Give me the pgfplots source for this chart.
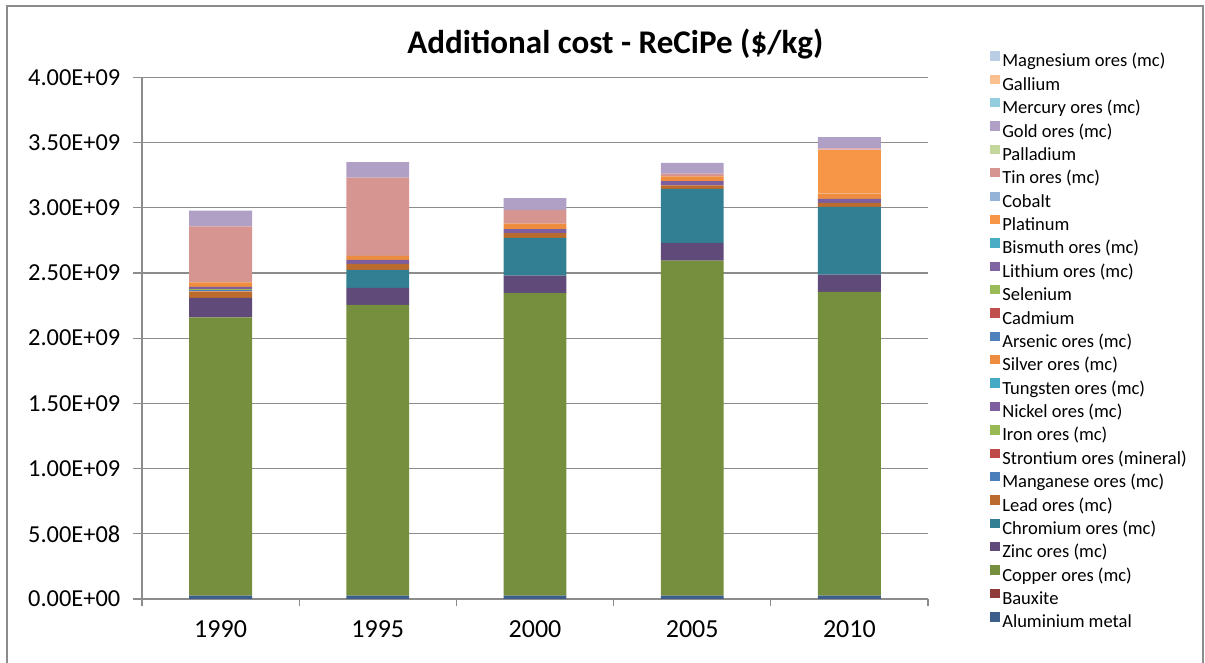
\documentclass[border=0pt]{standalone}
\usepackage{pgfplots}
\pgfplotsset{compat=1.18}
\usepackage{pgfplotstable}
\usepackage{fontspec}
\setmainfont{Carlito}

\definecolor{cAl}{HTML}{3C5E8B}
\definecolor{cBx}{HTML}{8E3B39}
\definecolor{cCu}{HTML}{768F3E}
\definecolor{cZn}{HTML}{5F4A7A}
\definecolor{cCr}{HTML}{327F93}
\definecolor{cPb}{HTML}{BA6B2D}
\definecolor{cMn}{HTML}{4A7EBB}
\definecolor{cSr}{HTML}{BE4B48}
\definecolor{cFe}{HTML}{98B954}
\definecolor{cNi}{HTML}{7D5FA0}
\definecolor{cW}{HTML}{46AAC5}
\definecolor{cAg}{HTML}{EE8D40}
\definecolor{cAs}{HTML}{4F81BD}
\definecolor{cCd}{HTML}{C0504D}
\definecolor{cSe}{HTML}{9BBB59}
\definecolor{cLi}{HTML}{8064A2}
\definecolor{cBi}{HTML}{4BACC6}
\definecolor{cPt}{HTML}{F79646}
\definecolor{cCo}{HTML}{95B3D7}
\definecolor{cSn}{HTML}{D79592}
\definecolor{cPd}{HTML}{C3D69B}
\definecolor{cAu}{HTML}{B0A0C6}
\definecolor{cHg}{HTML}{93CDDD}
\definecolor{cGa}{HTML}{FAC090}
\definecolor{cMg}{HTML}{B9CDE5}
\definecolor{gridgray}{HTML}{8C8C8C}

% values in units of 1E9 $/kg
\pgfplotstableread{
x Al Bx Cu Zn Cr Pb Mn Sr Fe Ni W Ag As Cd Se Li Bi Pt Co Sn Pd Au Hg Ga Mg
0 0.025 0 2.134 0.149 0     0.051 0.007 0 0.007 0.020 0 0.035 0 0 0 0 0 0     0 0.429 0 0.120 0 0 0
1 0.025 0 2.230 0.130 0.138 0.046 0     0 0     0.031 0 0.031 0 0 0 0 0 0     0 0.600 0 0.118 0 0 0
2 0.025 0 2.320 0.135 0.289 0.036 0     0 0     0.031 0 0.041 0 0 0 0 0 0     0 0.107 0 0.090 0 0 0
3 0.025 0 2.569 0.136 0.414 0.028 0     0 0     0.031 0 0.038 0 0 0 0 0 0     0 0.021 0 0.082 0 0 0
4 0.025 0 2.329 0.133 0.519 0.031 0     0 0     0.031 0 0.041 0 0 0 0 0 0.336 0 0.010 0 0.087 0 0 0
}\data

\newcommand\addbar[3]{\addplot[fill=#2,draw=none] table[x=x,y=#1]{\data};\addlegendentry{#3}}

\begin{document}
\begin{tikzpicture}
\useasboundingbox (0,0) rectangle (903.75pt,497.25pt);
\draw[gridgray,line width=0.9pt] (5.25pt,-2pt) -- (5.25pt,492.75pt) -- (902.25pt,492.75pt) -- (902.25pt,-2pt);
\node[anchor=base,font=\fontsize{24.8}{28}\selectfont\bfseries] at (461.5pt,457.3pt) {Additional cost - ReCiPe (\$/kg)};
\begin{axis}[
  at={(106.5pt,48pt)}, anchor=south west,
  scale only axis, width=589.5pt, height=391.3pt,
  ybar stacked, bar width=0.4,
  xmin=-0.5, xmax=4.5, ymin=0, ymax=4,
  axis x line*=bottom, axis y line*=left,
  axis line style={draw=gridgray,line width=0.9pt,-},
  tick align=outside,
  major tick length=6.75pt, minor tick length=5.6pt,
  xtick={0,1,2,3,4}, xticklabels={1990,1995,2000,2005,2010},
  major x tick style={draw=none},
  minor xtick={-0.5,0.5,1.5,2.5,3.5,4.5},
  minor x tick style={draw=gridgray,line width=0.9pt},
  ytick={0,0.5,1,1.5,2,2.5,3,3.5,4},
  yticklabels={0.00E+00,5.00E+08,1.00E+09,1.50E+09,2.00E+09,2.50E+09,3.00E+09,3.50E+09,4.00E+09},
  y tick style={draw=gridgray,line width=0.9pt},
  ymajorgrids, grid style={draw=gridgray,line width=0.9pt},
  /pgf/number format/assume math mode=true,
  yticklabel style={font=\fontsize{18.3}{20}\selectfont, xshift=-6pt},
  xticklabel style={font=\fontsize{19.5}{22}\selectfont, yshift=-6pt},
  reverse legend,
  legend cell align=left,
  legend image code/.code={\fill[#1,draw=none] (0pt,1pt) rectangle (7pt,8pt);},
  legend style={at={(1.0789,1.0523)}, anchor=north west, draw=none, fill=none,
    inner sep=0pt, row sep=0pt, column sep=2pt,
    font=\fontsize{13.9}{16}\selectfont,
    nodes={inner sep=0pt, text height=12.5pt, text depth=5.03pt}},
]
\addbar{Al}{cAl}{Aluminium metal}
\addbar{Bx}{cBx}{Bauxite}
\addbar{Cu}{cCu}{Copper ores (mc)}
\addbar{Zn}{cZn}{Zinc ores (mc)}
\addbar{Cr}{cCr}{Chromium ores (mc)}
\addbar{Pb}{cPb}{Lead ores (mc)}
\addbar{Mn}{cMn}{Manganese ores (mc)}
\addbar{Sr}{cSr}{Strontium ores (mineral)}
\addbar{Fe}{cFe}{Iron ores (mc)}
\addbar{Ni}{cNi}{Nickel ores (mc)}
\addbar{W}{cW}{Tungsten ores (mc)}
\addbar{Ag}{cAg}{Silver ores (mc)}
\addbar{As}{cAs}{Arsenic ores (mc)}
\addbar{Cd}{cCd}{Cadmium}
\addbar{Se}{cSe}{Selenium}
\addbar{Li}{cLi}{Lithium ores (mc)}
\addbar{Bi}{cBi}{Bismuth ores (mc)}
\addbar{Pt}{cPt}{Platinum}
\addbar{Co}{cCo}{Cobalt}
\addbar{Sn}{cSn}{Tin ores (mc)}
\addbar{Pd}{cPd}{Palladium}
\addbar{Au}{cAu}{Gold ores (mc)}
\addbar{Hg}{cHg}{Mercury ores (mc)}
\addbar{Ga}{cGa}{Gallium}
\addbar{Mg}{cMg}{Magnesium ores (mc)}
\end{axis}
\end{tikzpicture}
\end{document}
